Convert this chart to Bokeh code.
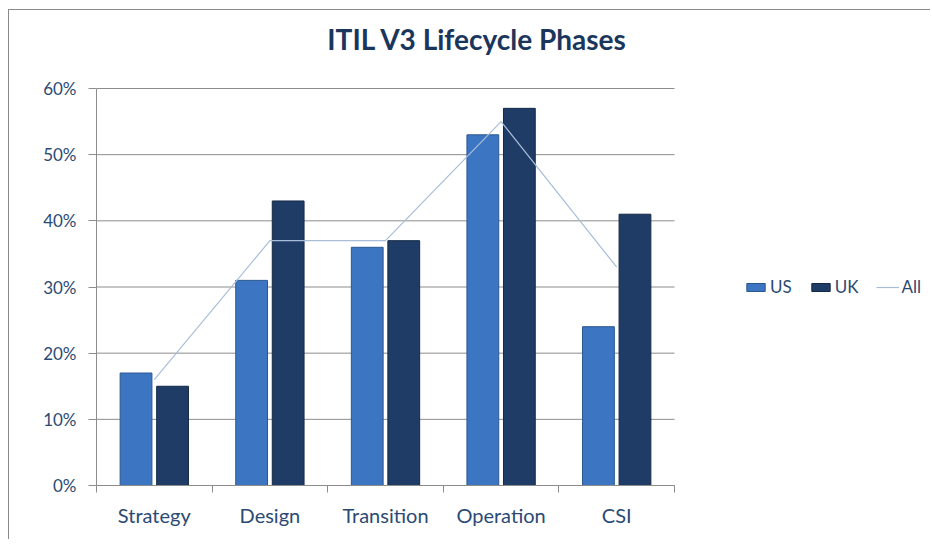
from bokeh.plotting import figure
from bokeh.models import (FixedTicker, NumeralTickFormatter, Legend, LegendItem,
                          ColumnDataSource, Range1d, Label)
from bokeh.embed import file_html
from bokeh.resources import INLINE

# ---- data ----
categories = ["Strategy", "Design", "Transition", "Operation", "CSI"]
us_values = [0.17, 0.31, 0.36, 0.53, 0.24]
uk_values = [0.15, 0.43, 0.37, 0.57, 0.41]
all_values = [0.16, 0.37, 0.37, 0.55, 0.33]
y_tick_values = [0.0, 0.1, 0.2, 0.3, 0.4, 0.5, 0.6]
y_max = 0.6
title_text = "ITIL V3 Lifecycle Phases"

FONT = "Lato"
TEXT_COLOR = "#2B4A73"
GRID = "#8C8C8C"

n = len(categories)
centers = [i + 0.5 for i in range(n)]
bar_w = 0.275
off = 0.158

# plot geometry (pixels)
W, H = 922, 530
LEFT, BOTTOM = 87, 55
CHART_W = 578            # width of the 5-category area
CHART_H = 397            # height of the 0..60% area
FRAME_W = W - LEFT - 2   # frame extended to hold the legend on the right
FRAME_H = H - BOTTOM     # frame extended upward to hold the title
x_end = n * FRAME_W / CHART_W
y_end = y_max * FRAME_H / CHART_H

src = ColumnDataSource(dict(
    cat=categories,
    x=centers,
    x_us=[c - off for c in centers],
    x_uk=[c + off for c in centers],
    us=us_values,
    uk=uk_values,
    all=all_values,
))
grid_src = ColumnDataSource(dict(y=y_tick_values,
                                 x0=[0] * len(y_tick_values),
                                 x1=[n] * len(y_tick_values)))

p = figure(width=W, height=H, output_backend="svg", toolbar_location=None,
           x_range=Range1d(0, x_end), y_range=Range1d(0, y_end),
           min_border_left=LEFT, min_border_top=0, min_border_right=2,
           min_border_bottom=BOTTOM)
p.styles = {"border-top": "1px solid #8a8a8a", "border-left": "1px solid #8a8a8a",
            "margin-left": "8px", "margin-top": "9px"}
p.outline_line_color = None
p.background_fill_color = "white"
p.border_fill_color = "white"

# title (placed in the upper part of the frame)
title = Label(x=381, y=FRAME_H - 28, x_units="screen", y_units="screen",
              text=title_text, text_align="center", text_baseline="middle",
              text_font=FONT, text_font_size="28px", text_font_style="bold",
              text_color="#1B365D")
p.add_layout(title)

# grid lines (limited to the category area)
p.xgrid.grid_line_color = None
p.ygrid.grid_line_color = None
p.segment(x0="x0", x1="x1", y0="y", y1="y", source=grid_src,
          line_color=GRID, line_width=1)

# bars
r_us = p.vbar(x="x_us", top="us", width=bar_w, source=src,
              fill_color="#3C76C2", line_color="#2B5791", line_width=1)
r_uk = p.vbar(x="x_uk", top="uk", width=bar_w, source=src,
              fill_color="#1F3C66", line_color="#142946", line_width=1)
r_all = p.line(x="x", y="all", source=src, line_color="#A9BDD8", line_width=1.2)

# axes
p.yaxis.bounds = (0, y_max)
p.yaxis.ticker = FixedTicker(ticks=y_tick_values)
p.yaxis.formatter = NumeralTickFormatter(format="0%")
p.yaxis.axis_line_color = GRID
p.yaxis.major_tick_line_color = GRID
p.yaxis.major_tick_out = 8
p.yaxis.major_tick_in = 0
p.yaxis.minor_tick_line_color = None
p.yaxis.major_label_standoff = 12
p.yaxis.major_label_text_font = FONT
p.yaxis.major_label_text_font_size = "17px"
p.yaxis.major_label_text_color = TEXT_COLOR

p.xaxis.bounds = (0, n)
p.xaxis.ticker = FixedTicker(ticks=centers, minor_ticks=list(range(n + 1)))
p.xaxis.major_label_overrides = {c: name for c, name in zip(centers, categories)}
p.xaxis.axis_line_color = GRID
p.xaxis.major_tick_line_color = None
p.xaxis.major_tick_out = 0
p.xaxis.major_tick_in = 0
p.xaxis.minor_tick_line_color = GRID
p.xaxis.minor_tick_out = 7
p.xaxis.minor_tick_in = 0
p.xaxis.major_label_standoff = 10
p.xaxis.major_label_text_font = FONT
p.xaxis.major_label_text_font_size = "20px"
p.xaxis.major_label_text_color = TEXT_COLOR

# legend
legend = Legend(items=[LegendItem(label="US", renderers=[r_us]),
                       LegendItem(label="UK", renderers=[r_uk]),
                       LegendItem(label="All", renderers=[r_all])],
                location=(648, 188), orientation="horizontal")
legend.border_line_color = None
legend.background_fill_alpha = 0
legend.padding = 0
legend.margin = 0
legend.spacing = 17
legend.glyph_width = 23
legend.glyph_height = 10
legend.label_standoff = 3
legend.label_text_font = FONT
legend.label_text_font_size = "17px"
legend.label_text_color = TEXT_COLOR
p.add_layout(legend, "center")

open("out.html", "w").write(file_html(p, INLINE))
